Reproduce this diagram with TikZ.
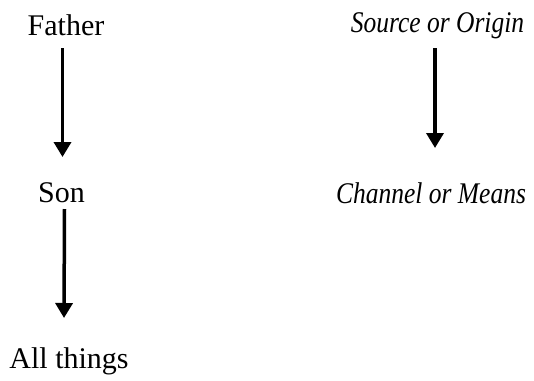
\documentclass[tikz,border=0pt]{standalone}
\usepackage{fontspec}
\setmainfont{Liberation Serif}
\usetikzlibrary{arrows.meta,calc}
\newcommand{\narrowit}[1]{\scalebox{0.85}[1]{\itshape #1}}
\begin{document}
\begin{tikzpicture}[x=1pt,y=-1pt,
  label/.style={inner sep=0pt,anchor=base,font=\fontsize{30}{36}\selectfont},
  arr/.style={line width=3.5pt,-{Triangle[width=17pt,length=15pt]}}]
\useasboundingbox (0,0) rectangle (534,380);
% left column
\node[label] (father) at (66,35) {Father};
\node[label] (son) at (61.5,202) {Son};
\node[label] (all) at (69,368) {All things};
% right column
\node[label] (source) at (437.5,32) {\narrowit{Source or Origin}};
\node[label] (channel) at (431,203) {\narrowit{Channel or Means}};
% arrows
\draw[arr] ($(father.base)+(-3.5,13)$) -- ($(son.base)+(1,-45)$);
\draw[arr] ($(son.base)+(3,7)$) -- ($(all.base)+(-5,-50)$);
\draw[arr] ($(source.base)+(-2.5,16)$) -- ($(channel.base)+(4,-55)$);
\end{tikzpicture}
\end{document}
